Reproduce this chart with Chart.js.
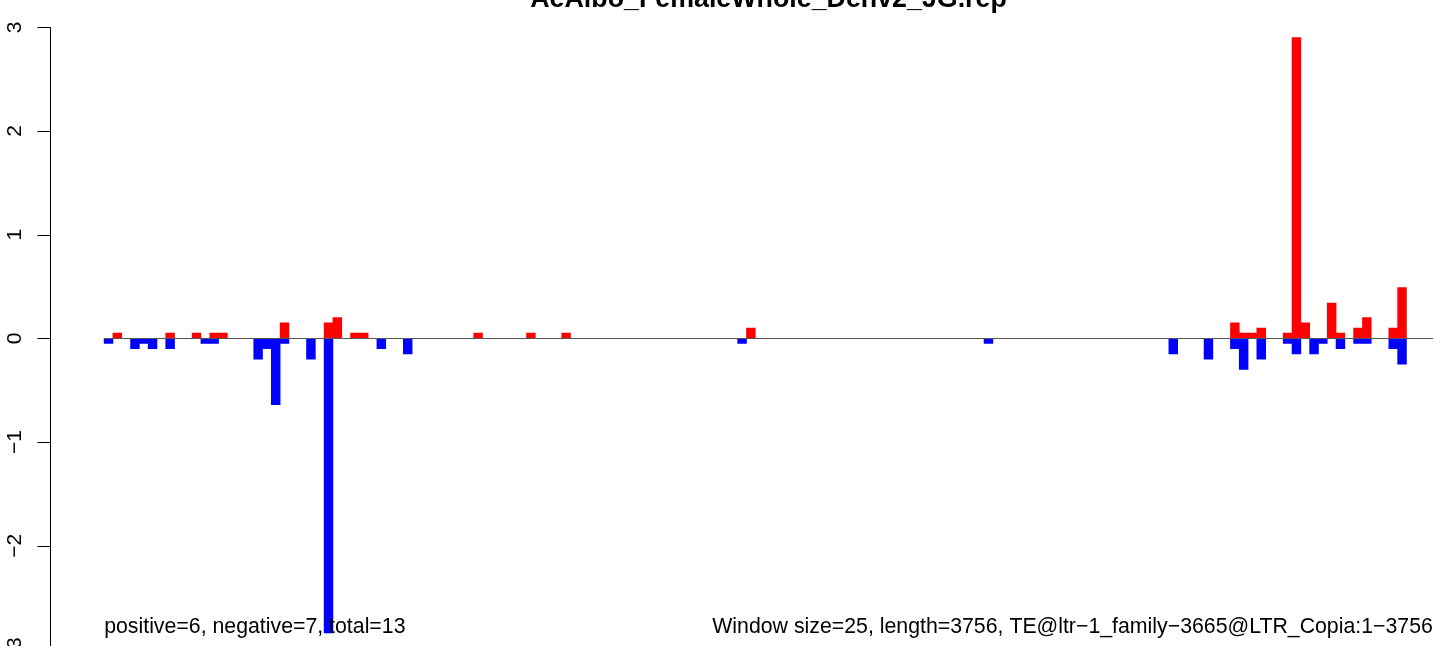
<!DOCTYPE html>
<html>
<head>
<meta charset="utf-8">
<title>AeAlbo_FemaleWhole_Denv2_JG.rep</title>
<script src="https://cdn.jsdelivr.net/npm/chart.js@4/dist/chart.umd.min.js"></script>
<style>
    html, body { margin: 0; padding: 0; background: #fff; overflow: hidden; width: 1444px; height: 646px; }
    #wrap { position: absolute; left: 0; top: 0; width: 1560px; height: 700px; }
</style>
</head>
<body>
<div id="wrap"><canvas id="chart" width="1560" height="700"></canvas></div>
<script>
// --- Data (window index -> value) ---
const title = 'AeAlbo_FemaleWhole_Denv2_JG.rep';
const windowCount = 151; // 3756 bp / 25 bp windows
const posWindows = [1, 7, 10, 12, 13, 20, 25, 26, 28, 29, 42, 48, 52, 73, 128, 129, 130, 131, 134, 135, 136, 139, 140, 142, 143, 146, 147];
const posValues  = [0.05, 0.05, 0.05, 0.05, 0.05, 0.15, 0.15, 0.2, 0.05, 0.05, 0.05, 0.05, 0.05, 0.1, 0.15, 0.05, 0.05, 0.1, 0.05, 2.9, 0.15, 0.34, 0.05, 0.1, 0.2, 0.1, 0.49];
const negWindows = [0, 3, 4, 5, 7, 11, 12, 17, 18, 19, 20, 23, 25, 31, 34, 72, 100, 121, 125, 128, 129, 131, 134, 135, 137, 138, 140, 142, 143, 146, 147];
const negValues  = [-0.05, -0.1, -0.05, -0.1, -0.1, -0.05, -0.05, -0.2, -0.1, -0.64, -0.05, -0.2, -2.84, -0.1, -0.15, -0.05, -0.05, -0.15, -0.2, -0.1, -0.3, -0.2, -0.05, -0.15, -0.15, -0.05, -0.1, -0.05, -0.05, -0.1, -0.25];
const yTicks = [-3, -2, -1, 0, 1, 2, 3];
const leftNote = 'positive=6, negative=7, total=13';
const rightNote = 'Window size=25, length=3756, TE@ltr\u22121_family\u22123665@LTR_Copia:1\u22123756';

// every window gets a point (zeros included) so bar width = one window
function buildSeries(windows, values) {
    const out = [];
    for (let i = 0; i < windowCount; i++) out.push({ x: i + 0.5, y: 0 });
    windows.forEach((w, k) => { out[w].y = values[k]; });
    return out;
}

const FONT = '"Liberation Sans", Arial, Helvetica, sans-serif';
const pad = windowCount * 0.04; // R style 4% axis extension

// --- R-like decorations: y axis, zero line, title, notes ---
const rDecor = {
    id: 'rDecor',
    afterDatasetsDraw(chart) {
        const { ctx, scales: { x, y }, chartArea } = chart;
        ctx.save();

        // zero line across the windows
        const y0 = Math.round(y.getPixelForValue(0)) + 0.5;
        ctx.strokeStyle = '#555555';
        ctx.lineWidth = 1;
        ctx.beginPath();
        ctx.moveTo(x.getPixelForValue(0), y0);
        ctx.lineTo(x.getPixelForValue(windowCount), y0);
        ctx.stroke();

        // left axis
        const ax = 50.5;
        ctx.strokeStyle = '#000';
        ctx.beginPath();
        ctx.moveTo(ax, y.getPixelForValue(yTicks[yTicks.length - 1]));
        ctx.lineTo(ax, y.getPixelForValue(yTicks[0]));
        yTicks.forEach(t => {
            const py = Math.round(y.getPixelForValue(t)) + 0.5;
            ctx.moveTo(ax - 13, py);
            ctx.lineTo(ax, py);
        });
        ctx.stroke();

        ctx.fillStyle = '#000';
        ctx.font = '21px ' + FONT;
        ctx.textAlign = 'center';
        ctx.textBaseline = 'alphabetic';
        yTicks.forEach(t => {
            ctx.save();
            ctx.translate(20.5, y.getPixelForValue(t));
            ctx.rotate(-Math.PI / 2);
            ctx.fillText(t < 0 ? '\u2212' + Math.abs(t) : String(t), 0, 0);
            ctx.restore();
        });

        // notes at the bottom
        ctx.font = '21.3px ' + FONT;
        ctx.textAlign = 'left';
        ctx.fillText(leftNote, x.getPixelForValue(0), 633);
        ctx.textAlign = 'right';
        ctx.fillText(rightNote, x.getPixelForValue(windowCount), 633);

        // title (centred on the plot region)
        ctx.font = 'bold 26.8px ' + FONT;
        ctx.textAlign = 'center';
        ctx.fillText(title, (chartArea.left + chartArea.right) / 2, 7);

        ctx.restore();
    }
};

new Chart(document.getElementById('chart'), {
    type: 'bar',
    data: {
        datasets: [
            {
                label: 'positive',
                data: buildSeries(posWindows, posValues),
                backgroundColor: '#ff0000',
                borderWidth: 0,
                grouped: false,
                barPercentage: 1,
                categoryPercentage: 1
            },
            {
                label: 'negative',
                data: buildSeries(negWindows, negValues),
                backgroundColor: '#0000ff',
                borderWidth: 0,
                grouped: false,
                barPercentage: 1,
                categoryPercentage: 1
            }
        ]
    },
    options: {
        responsive: false,
        animation: false,
        layout: { padding: { left: 51, right: 74, top: 27.3, bottom: 50.6 } },
        plugins: {
            legend: { display: false },
            tooltip: { enabled: false }
        },
        scales: {
            x: { type: 'linear', display: false, offset: false, min: -pad, max: windowCount + pad },
            y: { display: false, min: -3, max: 3 }
        }
    },
    plugins: [rDecor]
});
</script>
</body>
</html>
